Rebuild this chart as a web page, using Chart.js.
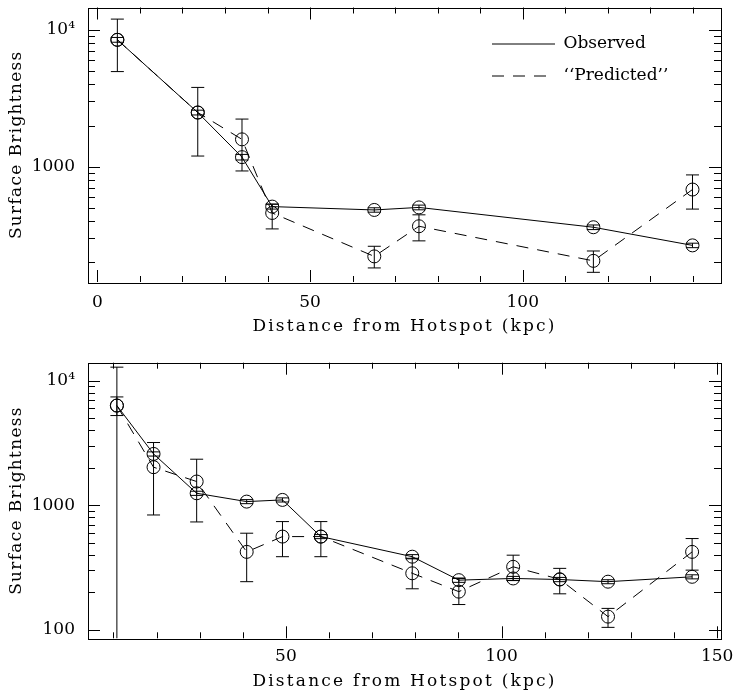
<!DOCTYPE html>
<html>
<head>
<meta charset="utf-8">
<script src="https://cdn.jsdelivr.net/npm/chart.js@4.4.1/dist/chart.umd.min.js"></script>
<style>
  html, body { margin: 0; padding: 0; background: #fff; }
  .wrap { position: absolute; left: 0; width: 734px; height: 349px; }
  #w1 { top: 0; }
  #w2 { top: 349px; }
</style>
</head>
<body>
<div class="wrap" id="w1"><canvas id="c1" width="734" height="349"></canvas></div>
<div class="wrap" id="w2"><canvas id="c2" width="734" height="349"></canvas></div>
<script>
// ---------- DATA: top panel ----------
const distTop = [4.7, 23.6, 34.0, 41.1, 65.1, 75.6, 116.6, 139.9];
const observedTop = [8470, 2490, 1175, 511, 483, 504, 361, 266];
const observedTopLo = [8130, 2390, 1120, 490, 465, 484, 347, 256];
const observedTopHi = [8810, 2590, 1230, 532, 501, 524, 375, 276];
const predictedTop = [8470, 2490, 1585, 459, 221, 367, 205, 681];
const predictedTopLo = [4960, 1197, 931, 351, 182, 287, 169, 490];
const predictedTopHi = [12000, 3800, 2230, 533, 262, 445, 242, 871];

// ---------- DATA: bottom panel ----------
const distBot = [10.8, 19.3, 29.3, 40.9, 49.2, 58.1, 79.3, 90.1, 102.7, 113.5, 124.7, 144.2];
const observedBot = [6300, 2580, 1248, 1070, 1104, 561, 387, 251, 259, 254, 244, 267];
const observedBotLo = [5240, 2480, 1200, 1030, 1062, 540, 372, 241, 249, 244, 235, 257];
const observedBotHi = [7390, 2680, 1296, 1110, 1146, 582, 402, 261, 269, 264, 253, 277];
const predictedBot = [6300, 2020, 1550, 423, 561, 561, 285, 203, 321, 255, 128, 423];
const predictedBotLo = [20, 836, 735, 244, 387, 387, 214, 160, 250, 195, 105, 302];
const predictedBotHi = [12800, 3185, 2340, 597, 740, 740, 376, 259, 398, 312, 149, 541];

// ---------- TICKS ----------
const xTicksTop = [0, 10, 20, 30, 40, 50, 60, 70, 80, 90, 100, 110, 120, 130, 140];
const xTicksBot = [10, 20, 30, 40, 50, 60, 70, 80, 90, 100, 110, 120, 130, 140, 150];
const xLabelled = [0, 50, 100, 150];
const yTicksTop = [200, 300, 400, 500, 600, 700, 800, 900, 1000, 2000, 3000, 4000, 5000, 6000, 7000, 8000, 9000, 10000];
const yTicksBot = [100, 200, 300, 400, 500, 600, 700, 800, 900, 1000, 2000, 3000, 4000, 5000, 6000, 7000, 8000, 9000, 10000];
const yLabels = { 100: '100', 1000: '1000', 10000: '10\u2074' };

const xTitle = 'Distance from Hotspot (kpc)';
const yTitle = 'Surface Brightness';
const seriesNames = ['Observed', '\u2018\u2018Predicted\u2019\u2019'];

const FONT = 'DejaVu Serif';

function pts(xs, ys) { return xs.map((x, i) => ({ x: x, y: ys[i] })); }

// error bars + inward ticks + frame
const framePlugin = {
  id: 'frameTicks',
  afterDatasetsDraw(chart) {
    const ctx = chart.ctx;
    const a = chart.chartArea;
    ctx.save();
    ctx.beginPath();
    ctx.rect(a.left, a.top, a.right - a.left, a.bottom - a.top);
    ctx.clip();
    ctx.strokeStyle = '#000';
    ctx.lineWidth = 1;
    ctx.setLineDash([]);
    chart.data.datasets.forEach(ds => {
      if (!ds.errLo) return;
      ds.data.forEach((p, i) => {
        const x = chart.scales.x.getPixelForValue(p.x);
        const yl = chart.scales.y.getPixelForValue(ds.errLo[i]);
        const yh = chart.scales.y.getPixelForValue(ds.errHi[i]);
        ctx.beginPath();
        ctx.moveTo(x, yl); ctx.lineTo(x, yh);
        ctx.moveTo(x - 6.5, yl); ctx.lineTo(x + 6.5, yl);
        ctx.moveTo(x - 6.5, yh); ctx.lineTo(x + 6.5, yh);
        ctx.stroke();
      });
    });
    ctx.restore();
    ctx.save();
    ctx.strokeStyle = '#000';
    ctx.lineWidth = 1;
    ctx.setLineDash([]);
    ctx.strokeRect(Math.round(a.left) + 0.5, Math.round(a.top) + 0.5, Math.round(a.right - a.left), Math.round(a.bottom - a.top));
    ctx.beginPath();
    chart.scales.x.ticks.forEach(t => {
      const x = Math.round(chart.scales.x.getPixelForValue(t.value)) + 0.5;
      const len = (t.value % 50 === 0) ? 12 : 6;
      ctx.moveTo(x, a.bottom); ctx.lineTo(x, a.bottom - len);
      ctx.moveTo(x, a.top); ctx.lineTo(x, a.top + len);
    });
    chart.scales.y.ticks.forEach(t => {
      const y = Math.round(chart.scales.y.getPixelForValue(t.value)) + 0.5;
      const lg = Math.log10(t.value);
      const len = Math.abs(lg - Math.round(lg)) < 1e-9 ? 12 : 7;
      ctx.moveTo(a.left, y); ctx.lineTo(a.left + len, y);
      ctx.moveTo(a.right, y); ctx.lineTo(a.right - len, y);
    });
    ctx.stroke();
    ctx.restore();
  }
};

// move legend to top-right inside plot
const legendMove = {
  id: 'legendMove',
  afterLayout(chart) {
    if (chart.legend && chart.options.plugins.legend.display) {
      chart.legend.left = 477;
      chart.legend.top = 20.5;
      chart.legend.right = 730;
    }
  }
};

// title with extra letter spacing (the original font is wide)
function spacedTitle(scale, spacing) {
  if (scale._spacedPatched) return;
  scale._spacedPatched = true;
  const orig = scale.drawTitle.bind(scale);
  scale.drawTitle = function () {
    const ctx = scale.ctx;
    ctx.save();
    ctx.letterSpacing = spacing + 'px';
    orig();
    ctx.restore();
  };
}

function legendLabels(chart) {
  const items = Chart.defaults.plugins.legend.labels.generateLabels(chart);
  items.forEach(it => {
    const ds = chart.data.datasets[it.datasetIndex];
    it.lineDash = ds.borderDash;
    it.lineWidth = 1;
    it.strokeStyle = '#000';
    it.pointStyle = 'line';
  });
  return items;
}

function makeChart(canvasId, cfg) {
  const datasets = [
    {
      label: seriesNames[0],
      data: pts(cfg.xs, cfg.obs),
      errLo: cfg.obsLo, errHi: cfg.obsHi,
      borderColor: '#000', borderWidth: 1, borderDash: [],
      pointRadius: 6.5, pointBorderWidth: 1, pointBorderColor: '#000',
      pointBackgroundColor: 'rgba(0,0,0,0)', backgroundColor: 'rgba(0,0,0,0)',
      tension: 0, fill: false
    },
    {
      label: seriesNames[1],
      data: pts(cfg.xs, cfg.pred),
      errLo: cfg.predLo, errHi: cfg.predHi,
      borderColor: '#000', borderWidth: 1, borderDash: [12, 9],
      pointRadius: 6.5, pointBorderWidth: 1, pointBorderColor: '#000',
      pointBackgroundColor: 'rgba(0,0,0,0)', backgroundColor: 'rgba(0,0,0,0)',
      tension: 0, fill: false
    }
  ];
  return new Chart(document.getElementById(canvasId), {
    type: 'line',
    data: { datasets: datasets },
    plugins: [framePlugin, legendMove],
    options: {
      responsive: false,
      animation: false,
      devicePixelRatio: 1,
      layout: { padding: { left: 0, right: 13, top: cfg.padTop, bottom: 0 } },
      plugins: {
        tooltip: { enabled: false },
        legend: {
          display: cfg.legend,
          position: 'chartArea',
          align: 'start',
          labels: {
            usePointStyle: true,
            pointStyle: 'line',
            pointStyleWidth: 63,
            padding: 15,
            color: '#000',
            font: { family: FONT, size: 17 },
            generateLabels: legendLabels
          }
        }
      },
      scales: {
        x: {
          type: 'linear',
          position: 'bottom',
          min: cfg.xmin, max: cfg.xmax,
          grid: { display: false, drawTicks: false },
          border: { display: false },
          afterBuildTicks: s => { s.ticks = cfg.xTicks.map(v => ({ value: v })); },
          afterFit: s => { s.height = cfg.xAxisH; s.paddingLeft = 0; s.paddingRight = 0; spacedTitle(s, 2.2); },
          ticks: {
            autoSkip: false, maxRotation: 0, minRotation: 0,
            padding: cfg.xTickPad,
            color: '#000',
            font: { family: FONT, size: 17 },
            callback: v => (xLabelled.includes(v) ? String(v) : '')
          },
          title: {
            display: true, text: xTitle, color: '#000',
            font: { family: FONT, size: 17 },
            padding: { top: 0, bottom: cfg.xTitlePad }
          }
        },
        y: {
          type: 'logarithmic',
          position: 'left',
          min: cfg.ymin, max: cfg.ymax,
          grid: { display: false, drawTicks: false },
          border: { display: false },
          afterBuildTicks: s => { s.ticks = cfg.yTicks.map(v => ({ value: v })); },
          afterFit: s => { s.width = 88; s.paddingTop = 0; s.paddingBottom = 0; spacedTitle(s, 1.3); },
          ticks: {
            autoSkip: false,
            padding: 13,
            color: '#000',
            font: { family: FONT, size: 17 },
            callback: v => (yLabels[v] !== undefined ? yLabels[v] : '')
          },
          title: {
            display: true, text: yTitle, color: '#000',
            font: { family: FONT, size: 17 },
            padding: { top: 6, bottom: 0 }
          }
        }
      }
    }
  });
}

makeChart('c1', {
  xs: distTop, obs: observedTop, obsLo: observedTopLo, obsHi: observedTopHi,
  pred: predictedTop, predLo: predictedTopLo, predHi: predictedTopHi,
  xmin: -2.2, xmax: 146.6, ymin: 143.6, ymax: 14590,
  xTicks: xTicksTop, yTicks: yTicksTop,
  padTop: 5, xAxisH: 67, xTickPad: 10, xTitlePad: 12, legend: true
});

makeChart('c2', {
  xs: distBot, obs: observedBot, obsLo: observedBotLo, obsHi: observedBotHi,
  pred: predictedBot, predLo: predictedBotLo, predHi: predictedBotHi,
  xmin: 4.1, xmax: 150.9, ymin: 85.8, ymax: 13900,
  xTicks: xTicksBot, yTicks: yTicksBot,
  padTop: 13.7, xAxisH: 59.7, xTickPad: 8, xTitlePad: 6, legend: false
});
</script>
</body>
</html>
